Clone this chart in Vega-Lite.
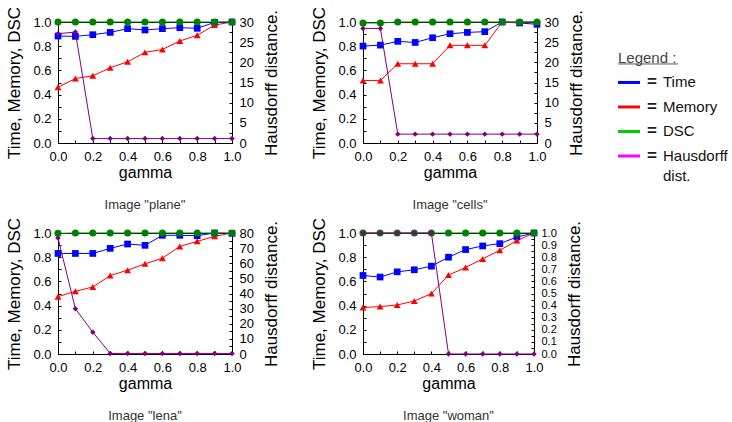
{
  "$schema": "https://vega.github.io/schema/vega-lite/v6.json",
  "background": "white",
  "padding": 5,
  "config": {
    "font": "Liberation Sans",
    "view": {"stroke": "black", "strokeWidth": 1},
    "axis": {
      "grid": false, "domainColor": "black", "tickColor": "black", "labelColor": "black", "titleColor": "black",
      "labelFontSize": 13, "titleFontSize": 17, "titleFontWeight": "normal",
      "tickSize": -3, "labelPadding": 10, "labelOverlap": false, "labelFlush": false, "domainWidth": 1, "tickWidth": 1
    },
    "title": {"fontSize": 13, "fontWeight": "normal", "color": "#333", "orient": "bottom", "offset": 19}
  },
  "datasets": {
    "plane": [
      {"g":0,"Time":0.884,"Memory":0.461,"DSC":1,"Hausdorff":27.1},
      {"g":0.1,"Time":0.881,"Memory":0.533,"DSC":1,"Hausdorff":27.5},
      {"g":0.2,"Time":0.895,"Memory":0.555,"DSC":1,"Hausdorff":1.1},
      {"g":0.3,"Time":0.914,"Memory":0.622,"DSC":1,"Hausdorff":1.1},
      {"g":0.4,"Time":0.945,"Memory":0.671,"DSC":1,"Hausdorff":1.1},
      {"g":0.5,"Time":0.934,"Memory":0.749,"DSC":1,"Hausdorff":1.1},
      {"g":0.6,"Time":0.945,"Memory":0.773,"DSC":1,"Hausdorff":1.1},
      {"g":0.7,"Time":0.953,"Memory":0.843,"DSC":1,"Hausdorff":1.1},
      {"g":0.8,"Time":0.948,"Memory":0.890,"DSC":1,"Hausdorff":1.1},
      {"g":0.9,"Time":0.997,"Memory":0.975,"DSC":1,"Hausdorff":1.1},
      {"g":1,"Time":1,"Memory":1,"DSC":1,"Hausdorff":1.1}
    ],
    "cells": [
      {"g":0,"Time":0.801,"Memory":0.517,"DSC":0.992,"Hausdorff":28.4},
      {"g":0.1,"Time":0.809,"Memory":0.517,"DSC":0.992,"Hausdorff":28.4},
      {"g":0.2,"Time":0.840,"Memory":0.655,"DSC":1,"Hausdorff":2.2},
      {"g":0.3,"Time":0.831,"Memory":0.655,"DSC":1,"Hausdorff":2.2},
      {"g":0.4,"Time":0.870,"Memory":0.655,"DSC":1,"Hausdorff":2.2},
      {"g":0.5,"Time":0.903,"Memory":0.807,"DSC":1,"Hausdorff":2.2},
      {"g":0.6,"Time":0.914,"Memory":0.807,"DSC":1,"Hausdorff":2.2},
      {"g":0.7,"Time":0.920,"Memory":0.807,"DSC":1,"Hausdorff":2.2},
      {"g":0.8,"Time":1,"Memory":1,"DSC":1,"Hausdorff":2.2},
      {"g":0.9,"Time":0.992,"Memory":1,"DSC":1,"Hausdorff":2.2},
      {"g":1,"Time":0.981,"Memory":1,"DSC":1,"Hausdorff":2.2}
    ],
    "lena": [
      {"g":0,"Time":0.831,"Memory":0.474,"DSC":0.997,"Hausdorff":76.7},
      {"g":0.1,"Time":0.831,"Memory":0.518,"DSC":1,"Hausdorff":29.9},
      {"g":0.2,"Time":0.831,"Memory":0.554,"DSC":1,"Hausdorff":14.4},
      {"g":0.3,"Time":0.873,"Memory":0.648,"DSC":1,"Hausdorff":0.4},
      {"g":0.4,"Time":0.909,"Memory":0.693,"DSC":1,"Hausdorff":0.4},
      {"g":0.5,"Time":0.898,"Memory":0.745,"DSC":1,"Hausdorff":0.4},
      {"g":0.6,"Time":0.981,"Memory":0.792,"DSC":1,"Hausdorff":0.4},
      {"g":0.7,"Time":0.981,"Memory":0.889,"DSC":1,"Hausdorff":0.4},
      {"g":0.8,"Time":0.978,"Memory":0.931,"DSC":1,"Hausdorff":0.4},
      {"g":0.9,"Time":1,"Memory":0.972,"DSC":1,"Hausdorff":0.4},
      {"g":1,"Time":0.997,"Memory":1,"DSC":1,"Hausdorff":0.4}
    ],
    "woman": [
      {"g":0,"Time":0.649,"Memory":0.384,"DSC":1,"Hausdorff":1},
      {"g":0.1,"Time":0.636,"Memory":0.392,"DSC":1,"Hausdorff":1},
      {"g":0.2,"Time":0.679,"Memory":0.405,"DSC":1,"Hausdorff":1},
      {"g":0.3,"Time":0.696,"Memory":0.438,"DSC":1,"Hausdorff":1},
      {"g":0.4,"Time":0.726,"Memory":0.499,"DSC":1,"Hausdorff":1},
      {"g":0.5,"Time":0.800,"Memory":0.652,"DSC":1,"Hausdorff":0},
      {"g":0.6,"Time":0.863,"Memory":0.715,"DSC":1,"Hausdorff":0},
      {"g":0.7,"Time":0.893,"Memory":0.786,"DSC":1,"Hausdorff":0},
      {"g":0.8,"Time":0.912,"Memory":0.858,"DSC":1,"Hausdorff":0},
      {"g":0.9,"Time":0.967,"Memory":0.937,"DSC":1,"Hausdorff":0},
      {"g":1,"Time":1,"Memory":1,"DSC":1,"Hausdorff":0}
    ]
  },
  "hconcat": [
    {
      "vconcat": [
        {
          "hconcat": [
            {
              "width": 174, "height": 121,
              "data": {"name": "plane"},
              "title": {"text": "Image \"plane\""},
              "encoding": {"x": {"field": "g", "type": "quantitative", "scale": {"domain": [0, 1], "nice": false}, "axis": {"title": "gamma", "values": [0, 0.1, 0.2, 0.3, 0.4, 0.5, 0.6, 0.7, 0.8, 0.9, 1], "labelExpr": "round(datum.value*10) % 2 == 0 ? format(datum.value, '.1f') : ''", "titleFontSize": 16, "titlePadding": 1}}},
              "layer": [
                {
                  "transform": [{"fold": ["Time", "Memory", "DSC"], "as": ["s", "v"]}],
                  "encoding": {
                    "y": {"field": "v", "type": "quantitative", "scale": {"domain": [0, 1], "nice": false}, "axis": {"title": "Time, Memory, DSC", "values": [0, 0.1, 0.2, 0.3, 0.4, 0.5, 0.6, 0.7, 0.8, 0.9, 1], "labelExpr": "round(datum.value*10) % 2 == 0 ? format(datum.value, '.1f') : ''", "titlePadding": 9}},
                    "color": {"field": "s", "type": "nominal", "scale": {"domain": ["Time", "Memory", "DSC"], "range": ["#0000ff", "#ff0000", "#008000"]}, "legend": null}
                  },
                  "layer": [
                    {"mark": {"type": "line", "strokeWidth": 1}},
                    {"mark": {"type": "point", "filled": true, "opacity": 1}, "encoding": {
                      "shape": {"field": "s", "type": "nominal", "scale": {"domain": ["Time", "Memory", "DSC"], "range": ["square", "triangle-up", "circle"]}, "legend": null},
                      "size": {"field": "s", "type": "nominal", "scale": {"domain": ["Time", "Memory", "DSC"], "range": [45, 50, 30]}, "legend": null}}}
                  ]
                },
                {
                  "encoding": {"y": {"field": "Hausdorff", "type": "quantitative", "scale": {"domain": [0, 30], "nice": false}, "axis": {"orient": "right", "title": "Hausdorff distance.", "titleAngle": 270, "titleBaseline": "top", "values": [0, 2.5, 5, 7.5, 10, 12.5, 15, 17.5, 20, 22.5, 25, 27.5, 30], "labelExpr": "datum.value % 5 == 0 ? format(datum.value, 'd') : ''", "titlePadding": 10}}},
                  "layer": [
                    {"mark": {"type": "line", "color": "#800080", "strokeWidth": 1}},
                    {"mark": {"type": "point", "shape": "diamond", "filled": true, "color": "#800080", "size": 30, "opacity": 1}}
                  ]
                }
              ],
              "resolve": {"scale": {"y": "independent"}}
            },
            {
              "width": 174, "height": 121,
              "data": {"name": "cells"},
              "title": {"text": "Image \"cells\""},
              "encoding": {"x": {"field": "g", "type": "quantitative", "scale": {"domain": [0, 1], "nice": false}, "axis": {"title": "gamma", "values": [0, 0.1, 0.2, 0.3, 0.4, 0.5, 0.6, 0.7, 0.8, 0.9, 1], "labelExpr": "round(datum.value*10) % 2 == 0 ? format(datum.value, '.1f') : ''", "titleFontSize": 16, "titlePadding": 1}}},
              "layer": [
                {
                  "transform": [{"fold": ["Time", "Memory", "DSC"], "as": ["s", "v"]}],
                  "encoding": {
                    "y": {"field": "v", "type": "quantitative", "scale": {"domain": [0, 1], "nice": false}, "axis": {"title": "Time, Memory, DSC", "values": [0, 0.1, 0.2, 0.3, 0.4, 0.5, 0.6, 0.7, 0.8, 0.9, 1], "labelExpr": "round(datum.value*10) % 2 == 0 ? format(datum.value, '.1f') : ''", "titlePadding": 9}},
                    "color": {"field": "s", "type": "nominal", "scale": {"domain": ["Time", "Memory", "DSC"], "range": ["#0000ff", "#ff0000", "#008000"]}, "legend": null}
                  },
                  "layer": [
                    {"mark": {"type": "line", "strokeWidth": 1}},
                    {"mark": {"type": "point", "filled": true, "opacity": 1}, "encoding": {
                      "shape": {"field": "s", "type": "nominal", "scale": {"domain": ["Time", "Memory", "DSC"], "range": ["square", "triangle-up", "circle"]}, "legend": null},
                      "size": {"field": "s", "type": "nominal", "scale": {"domain": ["Time", "Memory", "DSC"], "range": [45, 50, 30]}, "legend": null}}}
                  ]
                },
                {
                  "encoding": {"y": {"field": "Hausdorff", "type": "quantitative", "scale": {"domain": [0, 30], "nice": false}, "axis": {"orient": "right", "title": "Hausdorff distance.", "titleAngle": 270, "titleBaseline": "top", "values": [0, 2.5, 5, 7.5, 10, 12.5, 15, 17.5, 20, 22.5, 25, 27.5, 30], "labelExpr": "datum.value % 5 == 0 ? format(datum.value, 'd') : ''", "titlePadding": 10}}},
                  "layer": [
                    {"mark": {"type": "line", "color": "#800080", "strokeWidth": 1}},
                    {"mark": {"type": "point", "shape": "diamond", "filled": true, "color": "#800080", "size": 30, "opacity": 1}}
                  ]
                }
              ],
              "resolve": {"scale": {"y": "independent"}}
            }
          ],
          "spacing": 30
        },
        {
          "hconcat": [
            {
              "width": 174, "height": 121,
              "data": {"name": "lena"},
              "title": {"text": "Image \"lena\""},
              "encoding": {"x": {"field": "g", "type": "quantitative", "scale": {"domain": [0, 1], "nice": false}, "axis": {"title": "gamma", "values": [0, 0.1, 0.2, 0.3, 0.4, 0.5, 0.6, 0.7, 0.8, 0.9, 1], "labelExpr": "round(datum.value*10) % 2 == 0 ? format(datum.value, '.1f') : ''", "titleFontSize": 16, "titlePadding": 1}}},
              "layer": [
                {
                  "transform": [{"fold": ["Time", "Memory", "DSC"], "as": ["s", "v"]}],
                  "encoding": {
                    "y": {"field": "v", "type": "quantitative", "scale": {"domain": [0, 1], "nice": false}, "axis": {"title": "Time, Memory, DSC", "values": [0, 0.1, 0.2, 0.3, 0.4, 0.5, 0.6, 0.7, 0.8, 0.9, 1], "labelExpr": "round(datum.value*10) % 2 == 0 ? format(datum.value, '.1f') : ''", "titlePadding": 9}},
                    "color": {"field": "s", "type": "nominal", "scale": {"domain": ["Time", "Memory", "DSC"], "range": ["#0000ff", "#ff0000", "#008000"]}, "legend": null}
                  },
                  "layer": [
                    {"mark": {"type": "line", "strokeWidth": 1}},
                    {"mark": {"type": "point", "filled": true, "opacity": 1}, "encoding": {
                      "shape": {"field": "s", "type": "nominal", "scale": {"domain": ["Time", "Memory", "DSC"], "range": ["square", "triangle-up", "circle"]}, "legend": null},
                      "size": {"field": "s", "type": "nominal", "scale": {"domain": ["Time", "Memory", "DSC"], "range": [45, 50, 30]}, "legend": null}}}
                  ]
                },
                {
                  "encoding": {"y": {"field": "Hausdorff", "type": "quantitative", "scale": {"domain": [0, 80], "nice": false}, "axis": {"orient": "right", "title": "Hausdorff distance.", "titleAngle": 270, "titleBaseline": "top", "values": [0, 5, 10, 15, 20, 25, 30, 35, 40, 45, 50, 55, 60, 65, 70, 75, 80], "labelExpr": "datum.value % 10 == 0 ? format(datum.value, 'd') : ''", "titlePadding": 10}}},
                  "layer": [
                    {"mark": {"type": "line", "color": "#800080", "strokeWidth": 1}},
                    {"mark": {"type": "point", "shape": "diamond", "filled": true, "color": "#800080", "size": 30, "opacity": 1}}
                  ]
                }
              ],
              "resolve": {"scale": {"y": "independent"}}
            },
            {
              "width": 171, "height": 121,
              "data": {"name": "woman"},
              "title": {"text": "Image \"woman\""},
              "encoding": {"x": {"field": "g", "type": "quantitative", "scale": {"domain": [0, 1], "nice": false}, "axis": {"title": "gamma", "values": [0, 0.1, 0.2, 0.3, 0.4, 0.5, 0.6, 0.7, 0.8, 0.9, 1], "labelExpr": "round(datum.value*10) % 2 == 0 ? format(datum.value, '.1f') : ''", "titleFontSize": 16, "titlePadding": 1}}},
              "layer": [
                {
                  "transform": [{"fold": ["Time", "Memory", "DSC"], "as": ["s", "v"]}],
                  "encoding": {
                    "y": {"field": "v", "type": "quantitative", "scale": {"domain": [0, 1], "nice": false}, "axis": {"title": "Time, Memory, DSC", "values": [0, 0.1, 0.2, 0.3, 0.4, 0.5, 0.6, 0.7, 0.8, 0.9, 1], "labelExpr": "round(datum.value*10) % 2 == 0 ? format(datum.value, '.1f') : ''", "titlePadding": 9}},
                    "color": {"field": "s", "type": "nominal", "scale": {"domain": ["Time", "Memory", "DSC"], "range": ["#0000ff", "#ff0000", "#008000"]}, "legend": null}
                  },
                  "layer": [
                    {"mark": {"type": "line", "strokeWidth": 1}},
                    {"mark": {"type": "point", "filled": true, "opacity": 1}, "encoding": {
                      "shape": {"field": "s", "type": "nominal", "scale": {"domain": ["Time", "Memory", "DSC"], "range": ["square", "triangle-up", "circle"]}, "legend": null},
                      "size": {"field": "s", "type": "nominal", "scale": {"domain": ["Time", "Memory", "DSC"], "range": [45, 50, 30]}, "legend": null}}}
                  ]
                },
                {
                  "encoding": {"y": {"field": "Hausdorff", "type": "quantitative", "scale": {"domain": [0, 1], "nice": false}, "axis": {"orient": "right", "title": "Hausdorff distance.", "titleAngle": 270, "titleBaseline": "top", "values": [0, 0.05, 0.1, 0.15, 0.2, 0.25, 0.3, 0.35, 0.4, 0.45, 0.5, 0.55, 0.6, 0.65, 0.7, 0.75, 0.8, 0.85, 0.9, 0.95, 1], "labelExpr": "round(datum.value*100) % 10 == 0 ? format(datum.value, '.1f') : ''", "labelFontSize": 11, "titlePadding": 10}}},
                  "layer": [
                    {"mark": {"type": "line", "color": "#800080", "strokeWidth": 1}},
                    {"mark": {"type": "point", "shape": "diamond", "filled": true, "color": "#800080", "size": 30, "opacity": 1}}
                  ]
                }
              ],
              "resolve": {"scale": {"y": "independent"}}
            }
          ],
          "spacing": 30
        }
      ],
      "spacing": 3
    },
    {
      "width": 100, "height": 200,
      "view": {"stroke": null},
      "data": {"values": [
        {"k": -1, "label": "Legend :"},
        {"k": 0, "label": "Time"},
        {"k": 1, "label": "Memory"},
        {"k": 2, "label": "DSC"},
        {"k": 3, "label": "Hausdorff\ndist."}
      ]},
      "encoding": {
        "y": {"field": "k", "type": "quantitative", "scale": {"domain": [-2.467, 5.693], "nice": false, "zero": false, "reverse": true}, "axis": null}
      },
      "layer": [
        {
          "transform": [{"filter": "datum.k >= 0"}],
          "mark": {"type": "rule", "strokeWidth": 3},
          "encoding": {
            "x": {"datum": 0, "type": "quantitative", "scale": {"domain": [0, 100], "nice": false, "zero": false}, "axis": null},
            "x2": {"datum": 22},
            "stroke": {"field": "label", "type": "nominal", "scale": {"domain": ["Time", "Memory", "DSC", "Hausdorff\ndist."], "range": ["#0000ff", "#ff0000", "#00cc00", "#ff00ff"]}, "legend": null}
          }
        },
        {
          "transform": [{"filter": "datum.k >= 0"}],
          "mark": {"type": "text", "text": "=", "fontSize": 17, "fontWeight": "bold", "align": "center", "baseline": "middle", "color": "#222"},
          "encoding": {"x": {"datum": 34, "type": "quantitative"}}
        },
        {
          "transform": [{"filter": "datum.k >= 0"}],
          "mark": {"type": "text", "fontSize": 15, "align": "left", "baseline": "alphabetic", "dy": 5, "lineBreak": "\n", "lineHeight": 20, "color": "#111"},
          "encoding": {"x": {"datum": 45, "type": "quantitative"}, "text": {"field": "label"}}
        },
        {
          "transform": [{"filter": "datum.k < 0"}],
          "mark": {"type": "text", "fontSize": 15, "align": "left", "baseline": "alphabetic", "dy": 5, "color": "#444"},
          "encoding": {"x": {"datum": 0, "type": "quantitative"}, "text": {"field": "label"}}
        },
        {
          "transform": [{"filter": "datum.k < 0"}],
          "mark": {"type": "rule", "strokeWidth": 1, "color": "#555"},
          "encoding": {"x": {"datum": 0, "type": "quantitative"}, "x2": {"datum": 60}, "yOffset": {"value": 6}}
        }
      ]
    }
  ],
  "spacing": 31
}
